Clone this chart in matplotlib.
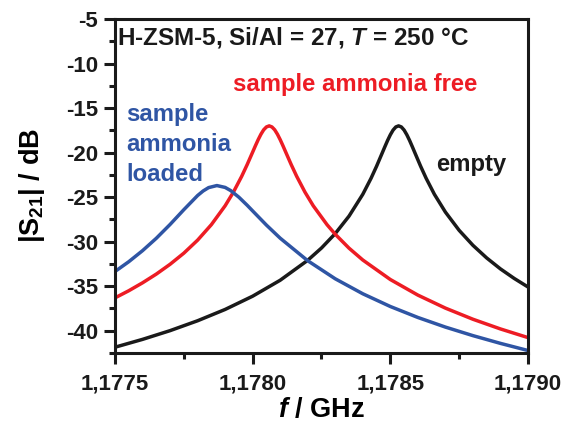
import matplotlib
matplotlib.use("Agg")
import matplotlib.pyplot as plt
from matplotlib.ticker import MultipleLocator, FixedLocator

plt.rcParams['font.family'] = ['Liberation Sans', 'DejaVu Sans']
plt.rcParams['font.weight'] = 'bold'
plt.rcParams['mathtext.fontset'] = 'custom'
plt.rcParams['mathtext.rm'] = 'Liberation Sans:bold'
plt.rcParams['mathtext.bf'] = 'Liberation Sans:bold'
plt.rcParams['mathtext.it'] = 'Liberation Sans:italic:bold'

# ---- data (frequency in GHz, |S21| in dB) ----
f_empty = [1.17750, 1.17760, 1.17770, 1.17780, 1.17790, 1.17800, 1.17810, 1.17820,
           1.17825, 1.17830, 1.17835, 1.17840, 1.17843, 1.17845, 1.17847, 1.17848,
           1.17849, 1.17850, 1.17851, 1.17852, 1.17853, 1.17854, 1.17855, 1.17856,
           1.17857, 1.17858, 1.17859, 1.17861, 1.17863, 1.17866, 1.17870, 1.17875,
           1.17880, 1.17885, 1.17890, 1.17895, 1.17900]
s_empty = [-41.85, -40.97, -39.99, -38.88, -37.61, -36.12, -34.33, -32.09,
           -30.71, -29.09, -27.13, -24.68, -22.88, -21.53, -20.08, -19.35,
           -18.64, -18.00, -17.47, -17.12, -17.00, -17.12, -17.47, -18.00,
           -18.64, -19.35, -20.08, -21.53, -22.88, -24.68, -26.68, -28.73,
           -30.41, -31.83, -33.06, -34.13, -35.09]

f_free = [1.17750, 1.17755, 1.17760, 1.17765, 1.17770, 1.17775, 1.17780, 1.17785,
          1.17790, 1.17793, 1.17796, 1.17798, 1.17800, 1.17801, 1.17802, 1.17803,
          1.17804, 1.17805, 1.17806, 1.17807, 1.17808, 1.17809, 1.17810, 1.17811,
          1.17812, 1.17814, 1.17816, 1.17819, 1.17822, 1.17827, 1.17830, 1.17835,
          1.17840, 1.17850, 1.17860, 1.17870, 1.17880, 1.17890, 1.17900]
s_free = [-36.31, -35.51, -34.62, -33.64, -32.54, -31.29, -29.83, -28.09,
          -25.97, -24.44, -22.67, -21.35, -19.94, -19.23, -18.55, -17.94,
          -17.44, -17.12, -17.00, -17.12, -17.44, -17.94, -18.55, -19.23,
          -19.94, -21.35, -22.67, -24.44, -25.97, -28.09, -29.17, -30.73,
          -32.06, -34.25, -36.00, -37.46, -38.71, -39.80, -40.77]

f_loaded = [1.17750, 1.17755, 1.17760, 1.17765, 1.17770, 1.17775, 1.17780, 1.17782,
            1.17784, 1.17787, 1.17790, 1.17792, 1.17795, 1.17798, 1.17800, 1.17805,
            1.17810, 1.17820, 1.17830, 1.17840, 1.17850, 1.17860, 1.17870, 1.17880,
            1.17890, 1.17900]
s_loaded = [-33.35, -32.25, -31.01, -29.62, -28.07, -26.41, -24.82, -24.31,
            -23.93, -23.70, -23.91, -24.26, -25.01, -25.91, -26.55, -28.14,
            -29.61, -32.14, -34.17, -35.85, -37.28, -38.51, -39.59, -40.55,
            -41.42, -42.22]

x_ticks = [1.1775, 1.1780, 1.1785, 1.1790]
x_ticklabels = ['1,1775', '1,1780', '1,1785', '1,1790']
y_ticks = [-40, -35, -30, -25, -20, -15, -10, -5]
y_ticklabels = ['-40', '-35', '-30', '-25', '-20', '-15', '-10', '-5']

c_black = '#1a1a1a'
c_red = '#ed1c24'
c_blue = '#2f55a4'

fig = plt.figure(figsize=(5.73, 4.23), dpi=100)
ax = fig.add_axes([115/573, 1-353/423, (528-115)/573, (353-19)/423])

ax.plot(f_empty, s_empty, color=c_black, lw=2.5, solid_capstyle='butt')
ax.plot(f_free, s_free, color=c_red, lw=2.5, solid_capstyle='butt')
ax.plot(f_loaded, s_loaded, color=c_blue, lw=2.5, solid_capstyle='butt')

ax.set_xlim(1.1775, 1.1790)
ax.set_ylim(-42.5, -5)
ax.xaxis.set_major_locator(FixedLocator(x_ticks))
ax.set_xticklabels(x_ticklabels)
ax.xaxis.set_minor_locator(MultipleLocator(0.00025))
ax.yaxis.set_major_locator(FixedLocator(y_ticks))
ax.set_yticklabels(y_ticklabels)
ax.yaxis.set_minor_locator(MultipleLocator(2.5))

for s in ax.spines.values():
    s.set_linewidth(2.2)
    s.set_color(c_black)
ax.tick_params(which='major', direction='out', length=8, width=2.2, colors=c_black,
               labelsize=16)
ax.tick_params(axis='x', which='major', pad=7)
ax.tick_params(axis='y', which='major', pad=4)
ax.tick_params(which='minor', direction='out', length=4, width=2.2, colors=c_black)
ax.tick_params(top=False, right=False, which='both')
for lab in ax.get_xticklabels() + ax.get_yticklabels():
    lab.set_fontweight('bold')

ax.set_xlabel(r'$\mathit{f}$ / GHz', fontsize=19.5, fontweight='bold', labelpad=1.5)
ax.set_ylabel(r'|S$_{21}$| / dB', fontsize=19.5, fontweight='bold', labelpad=14)

ax.text(0.005, 0.945, r'H-ZSM-5, Si/Al = 27, $\mathit{T}$ = 250 °C', transform=ax.transAxes,
        fontsize=17.5, fontweight='bold', color=c_black, ha='left', va='center')
ax.text(0.286, 0.805, 'sample ammonia free', transform=ax.transAxes,
        fontsize=17.2, fontweight='bold', color=c_red, ha='left', va='center')
ax.text(0.777, 0.563, 'empty', transform=ax.transAxes,
        fontsize=17.2, fontweight='bold', color=c_black, ha='left', va='center')
ax.text(0.027, 0.625, 'sample\nammonia\nloaded', transform=ax.transAxes,
        fontsize=17.2, fontweight='bold', color=c_blue, ha='left', va='center',
        linespacing=1.4)

fig.savefig('out.png', dpi=100)
